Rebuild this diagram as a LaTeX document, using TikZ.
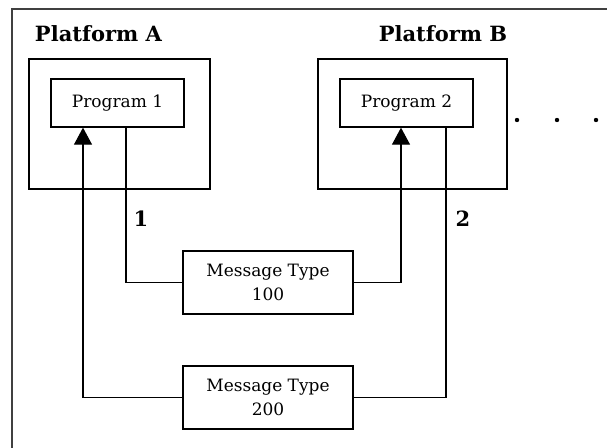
\documentclass[tikz,border=0pt]{standalone}
\usepackage{fontspec}
\setmainfont{DejaVu Serif}
\usetikzlibrary{arrows.meta}
\begin{document}
\begin{tikzpicture}[x=1pt,y=-1pt,
  box/.style={draw, line width=1.3pt, inner sep=0pt},
  prog/.style={box, minimum width=133pt, minimum height=48pt, font=\fontsize{17}{24}\selectfont},
  plat/.style={box, minimum height=130pt},
  msg/.style={box, minimum width=170pt, minimum height=63pt, align=center, font=\fontsize{17}{24}\selectfont},
  title/.style={font=\bfseries\fontsize{21}{24}\selectfont, inner sep=0pt},
  conn/.style={line width=1.1pt},
  arr/.style={conn, -{Triangle[width=18pt,length=17pt]}},
  frame/.style={line width=2pt, black!75}]
\useasboundingbox (0,0) rectangle (607,447);
\begin{scope}
\clip (0,0) rectangle (607,447);
\draw[frame] (12,460) -- (12,9) -- (620,9);
\end{scope}
\node[plat, minimum width=181pt] (pa) at (119.5,124) {};
\node[plat, minimum width=189pt] (pb) at (412.5,124) {};
\node[title] (ta) at (98.5,34) {Platform A};
\node[title] (tb) at (443,34) {Platform B};
\node[prog] (p1) at (117.5,103) {Program 1};
\node[prog] (p2) at (406.5,103) {Program 2};
\node[msg] (m1) at (268,282.5) {Message Type\\100};
\node[msg] (m2) at (268,397.5) {Message Type\\200};
\node[title] (l1) at (141,219) {1};
\node[title] (l2) at (463,219) {2};
\fill (517,120) circle (2.2pt) (557,120) circle (2.2pt) (596,120) circle (2.2pt);
\draw[conn] ([xshift=8.5pt]p1.south) |- (m1.west);
\draw[arr] (m1.east) -| ([xshift=-5.5pt]p2.south);
\draw[conn] ([xshift=39.5pt]p2.south) |- (m2.east);
\draw[arr] (m2.west) -| ([xshift=-34.5pt]p1.south);
\end{tikzpicture}
\end{document}
